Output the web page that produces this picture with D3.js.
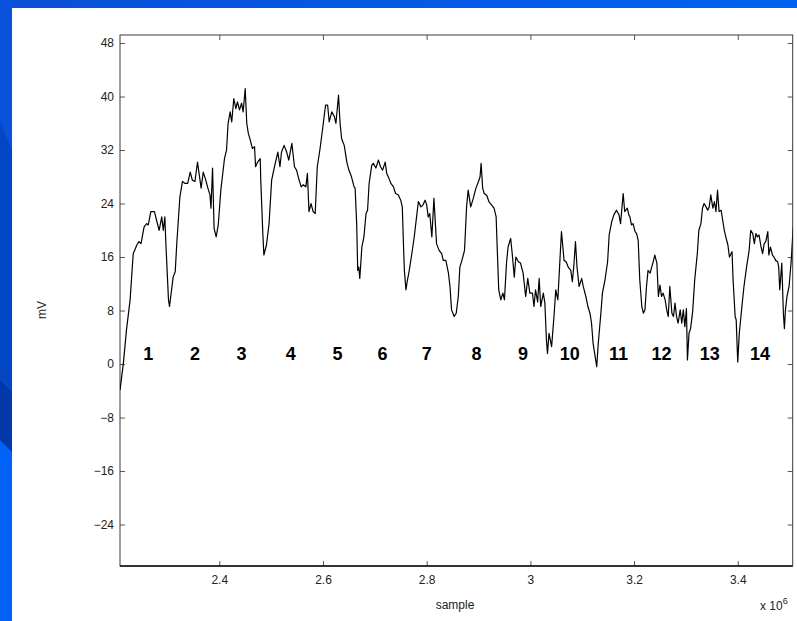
<!DOCTYPE html>
<html>
<meta charset="UTF-8">
<style>
/*	page + chart styles  */
body {
	margin: 0;
	background: #0060f4;
	font-family: "Liberation Sans", Arial, sans-serif;
}

.trace {
	fill: none;
	stroke: #000;
	stroke-width: 1.2px;
	stroke-linejoin: round;
}

.frame {
	fill: none;
	stroke: #3a3a3a;
	stroke-width: 1px;
}

.tick-lbl {
	font-size: 12px;
	fill: #222;
}

.beat {
	font-size: 18px;
	font-weight: bold;
	fill: #000;
}
</style>
<svg width="797" height="621"></svg>
<script src="https://cdn.jsdelivr.net/npm/d3@7"></script>
<script>
//	signal: sample index (x 10^6) and voltage (mV)
var sampleM = [
	2.2085, 2.215, 2.221, 2.228, 2.234, 2.241, 2.245, 2.249, 2.255, 2.260, 2.263, 2.268, 2.275, 2.279, 2.284, 2.289, 2.292, 2.295, 2.297,
	2.302, 2.304, 2.308, 2.311, 2.315, 2.318, 2.324, 2.329, 2.334, 2.339, 2.344, 2.348, 2.353, 2.358, 2.361, 2.365, 2.369, 2.374, 2.378,
	2.382, 2.384, 2.387, 2.390, 2.394, 2.398, 2.403, 2.410, 2.414, 2.417, 2.421, 2.424, 2.428, 2.432, 2.435, 2.439, 2.443, 2.446, 2.450,
	2.453, 2.456, 2.459, 2.464, 2.468, 2.470, 2.474, 2.479, 2.480, 2.484, 2.486, 2.491, 2.496, 2.501, 2.507, 2.513, 2.517, 2.520, 2.525,
	2.530, 2.534, 2.540, 2.545, 2.549, 2.554, 2.558, 2.562, 2.567, 2.570, 2.573, 2.577, 2.581, 2.585, 2.589, 2.594, 2.599, 2.603, 2.605,
	2.609, 2.612, 2.617, 2.622, 2.625, 2.630, 2.633, 2.636, 2.641, 2.646, 2.650, 2.655, 2.660, 2.662, 2.665, 2.667, 2.669, 2.671, 2.675,
	2.679, 2.683, 2.686, 2.689, 2.694, 2.697, 2.702, 2.707, 2.711, 2.715, 2.720, 2.723, 2.727, 2.731, 2.736, 2.740, 2.745, 2.750, 2.753,
	2.755, 2.757, 2.760, 2.763, 2.766, 2.771, 2.776, 2.779, 2.784, 2.789, 2.793, 2.797, 2.800, 2.803, 2.806, 2.810, 2.814, 2.819, 2.824,
	2.829, 2.832, 2.837, 2.842, 2.845, 2.848, 2.853, 2.857, 2.861, 2.864, 2.868, 2.873, 2.877, 2.880, 2.885, 2.890, 2.895, 2.900, 2.903,
	2.905, 2.908, 2.911, 2.916, 2.920, 2.925, 2.930, 2.934, 2.936, 2.939, 2.943, 2.947, 2.950, 2.954, 2.957, 2.962, 2.965, 2.969, 2.972,
	2.977, 2.981, 2.986, 2.991, 2.995, 2.999, 3.004, 3.007, 3.010, 3.014, 3.017, 3.020, 3.025, 3.028, 3.031, 3.033, 3.036, 3.041, 3.046,
	3.049, 3.053, 3.057, 3.060, 3.065, 3.069, 3.073, 3.078, 3.081, 3.084, 3.087, 3.090, 3.094, 3.099, 3.102, 3.107, 3.111, 3.115, 3.118,
	3.121, 3.125, 3.128, 3.131, 3.136, 3.139, 3.144, 3.149, 3.152, 3.157, 3.161, 3.166, 3.171, 3.174, 3.179, 3.182, 3.187, 3.190, 3.192,
	3.195, 3.198, 3.202, 3.205, 3.208, 3.211, 3.215, 3.218, 3.221, 3.224, 3.227, 3.231, 3.234, 3.237, 3.240, 3.244, 3.247, 3.250, 3.253,
	3.256, 3.260, 3.263, 3.266, 3.269, 3.273, 3.276, 3.279, 3.282, 3.285, 3.289, 3.292, 3.295, 3.298, 3.301, 3.303, 3.306, 3.309, 3.313,
	3.317, 3.322, 3.325, 3.329, 3.332, 3.335, 3.339, 3.342, 3.345, 3.348, 3.352, 3.355, 3.358, 3.361, 3.364, 3.368, 3.371, 3.374, 3.377,
	3.381, 3.384, 3.387, 3.389, 3.391, 3.395, 3.397, 3.400, 3.403, 3.408, 3.412, 3.417, 3.422, 3.425, 3.429, 3.432, 3.435, 3.438, 3.441,
	3.445, 3.448, 3.451, 3.454, 3.458, 3.460, 3.463, 3.467, 3.470, 3.473, 3.477, 3.479, 3.481, 3.485, 3.488, 3.490, 3.492, 3.495, 3.499,
	3.503, 3.507
];

var millivolts = [
	-3.9, 0.1, 5.1, 9.6, 16.5, 17.8, 18.3, 18.0, 20.5, 21.0, 20.8, 22.8, 22.8, 21.5, 20.0, 22.0, 20.0, 22.0, 18.0,
	9.6, 8.6, 11.1, 13.0, 13.8, 18.0, 25.0, 27.3, 27.0, 27.0, 28.7, 27.5, 27.3, 30.2, 28.5, 26.3, 28.7, 27.5, 26.3,
	25.3, 23.3, 29.3, 20.3, 19.0, 20.8, 26.0, 30.7, 32.0, 36.0, 37.7, 36.2, 39.7, 38.2, 39.2, 38.0, 39.0, 37.7, 41.2,
	36.0, 34.5, 33.7, 32.2, 32.5, 29.5, 30.2, 30.7, 27.5, 19.5, 16.3, 17.8, 21.0, 27.5, 29.7, 31.7, 29.5, 31.7, 32.7,
	31.7, 30.5, 33.0, 29.5, 29.0, 27.5, 26.5, 26.8, 26.5, 28.5, 22.8, 24.0, 22.8, 22.5, 29.5, 32.0, 35.0, 37.5, 38.7,
	38.7, 36.2, 37.7, 37.0, 36.0, 40.2, 36.0, 33.7, 32.7, 30.2, 29.0, 28.0, 26.5, 26.3, 21.0, 14.0, 14.5, 12.8, 17.5,
	19.0, 22.5, 23.0, 27.0, 29.7, 30.0, 29.3, 30.5, 29.5, 29.0, 30.2, 28.5, 27.8, 27.0, 26.5, 25.5, 25.3, 24.5, 23.5,
	18.5, 14.0, 11.1, 12.6, 13.8, 16.3, 19.0, 21.0, 24.3, 23.5, 23.8, 24.5, 23.8, 22.0, 22.5, 19.0, 24.8, 18.0, 17.0,
	16.5, 15.5, 15.5, 13.6, 11.6, 8.1, 7.1, 7.6, 10.1, 14.5, 15.5, 17.0, 23.5, 26.0, 23.5, 24.8, 26.3, 27.3, 28.0,
	30.0, 26.3, 25.5, 25.2, 24.3, 23.8, 23.3, 22.0, 17.5, 11.1, 9.6, 10.6, 9.6, 15.1, 17.5, 18.8, 16.5, 13.0, 16.0,
	15.3, 15.1, 13.6, 10.1, 12.8, 10.6, 10.6, 8.6, 11.1, 9.3, 12.8, 8.6, 10.6, 9.1, 3.6, 1.6, 4.6, 2.6, 7.6,
	11.1, 9.6, 15.5, 19.8, 15.5, 15.3, 14.5, 14.0, 12.3, 14.8, 18.3, 14.5, 11.6, 12.8, 11.6, 10.1, 8.6, 7.6, 6.1,
	3.1, 1.1, -0.4, 3.1, 7.6, 10.6, 12.6, 15.3, 19.3, 21.3, 22.3, 23.0, 22.3, 21.0, 25.5, 22.8, 23.3, 22.3, 22.0,
	20.8, 21.0, 19.8, 19.5, 18.5, 12.6, 8.6, 7.6, 8.1, 11.6, 14.0, 13.6, 14.5, 15.3, 16.3, 15.1, 10.1, 11.8, 10.1,
	10.6, 9.6, 8.1, 7.1, 11.6, 7.6, 7.1, 9.1, 7.1, 6.1, 8.1, 6.1, 8.1, 5.6, 8.3, 0.6, 4.6, 5.3, 7.8,
	12.6, 16.5, 20.0, 21.0, 23.3, 24.0, 23.5, 23.0, 23.5, 25.3, 23.3, 24.3, 22.8, 26.0, 22.8, 23.0, 21.5, 20.0, 19.0,
	17.8, 16.0, 16.5, 16.8, 12.6, 7.1, 6.6, 0.3, 4.6, 8.6, 11.6, 14.5, 17.0, 20.0, 19.5, 18.0, 19.5, 19.0, 19.3,
	17.5, 16.5, 18.0, 18.3, 19.8, 16.3, 17.5, 16.3, 16.0, 15.5, 15.3, 14.5, 11.1, 15.1, 7.6, 5.3, 8.1, 10.1, 11.6,
	15.3, 20.5
];

//	axis ticks
var xTicks = [2.4, 2.6, 2.8, 3.0, 3.2, 3.4];
var yTicks = [48, 40, 32, 24, 16, 8, 0, -8, -16, -24];

//	beat numbers written under the trace
var beatLabels = ["1", "2", "3", "4", "5", "6", "7", "8", "9", "10", "11", "12", "13", "14"];
var beatSamples = [2.263, 2.353, 2.443, 2.538, 2.628, 2.715, 2.800, 2.896, 2.986, 3.076, 3.170, 3.253, 3.346, 3.443];
var beatLevel = 1.6;

//	svg and sizing
var svg = d3.select("svg"),
    width = +svg.attr("width"),
    height = +svg.attr("height");

//	plot box (pixels)
var box = { l: 120, r: 792.7, t: 35, b: 566 };

var x = d3.scaleLinear().domain([2.2085, 3.506]).range([box.l, box.r]);
var y = d3.scaleLinear().domain([-30.2, 49.2]).range([box.b, box.t]);

//	slide background: blue bar at top and left, white panel
var defs = svg.append("defs");
var grad = defs.append("linearGradient")
	.attr("id", "topbar").attr("x1", 0).attr("x2", 1);
grad.append("stop").attr("offset", 0).attr("stop-color", "#0a4fd6");
grad.append("stop").attr("offset", 1).attr("stop-color", "#0062f2");

var bg = svg.append("g");
bg.append("rect").attr("width", width).attr("height", height).attr("fill", "#0063f6");
bg.append("rect").attr("width", width).attr("height", 8).attr("fill", "url(#topbar)");
bg.append("polygon").attr("points", "0,0 12,0 12,150 0,120").attr("fill", "#0a52dc");
bg.append("polygon").attr("points", "0,120 12,150 12,450 0,440").attr("fill", "#0447c4");
bg.append("polygon").attr("points", "0,380 12,392 12,452 0,440").attr("fill", "#0338a8");
bg.append("rect").attr("x", 12).attr("y", 8).attr("width", width - 12).attr("height", height - 8).attr("fill", "#fff");

//	clip for trace
defs.append("clipPath").attr("id", "plot")
	.append("rect").attr("x", box.l).attr("y", box.t).attr("width", box.r - box.l).attr("height", box.b - box.t);

//	axes (matlab style: ticks inside, on all four sides)
var tickLen = 5;
var fmtY = function(d) { return d < 0 ? "\u2212" + Math.abs(d) : d; };
var fmtX = function(d) { return +d.toFixed(1); };

svg.append("g").attr("transform", "translate(" + box.l + ",0)")
	.call(d3.axisLeft(y).tickValues(yTicks).tickSize(-tickLen).tickPadding(6).tickFormat(fmtY));
svg.append("g").attr("transform", "translate(" + box.r + ",0)")
	.call(d3.axisRight(y).tickValues(yTicks).tickSize(-tickLen).tickFormat(""));
svg.append("g").attr("transform", "translate(0," + box.b + ")")
	.call(d3.axisBottom(x).tickValues(xTicks).tickSize(-tickLen).tickPadding(9).tickFormat(fmtX));
svg.append("g").attr("transform", "translate(0," + box.t + ")")
	.call(d3.axisTop(x).tickValues(xTicks).tickSize(-tickLen).tickFormat(""));

svg.selectAll(".domain").remove();
svg.selectAll(".tick line").attr("stroke", "#555");
svg.selectAll(".tick text").attr("class", "tick-lbl").attr("font-family", null).attr("font-size", null);

svg.append("rect").attr("class", "frame")
	.attr("x", box.l).attr("y", box.t).attr("width", box.r - box.l).attr("height", box.b - box.t);
svg.append("line").attr("x1", box.l).attr("x2", box.r).attr("y1", box.b).attr("y2", box.b)
	.attr("stroke", "#111").attr("stroke-width", 1.3);

//	trace
var pts = d3.zip(sampleM, millivolts);
var line = d3.line()
	.x(function(d) { return x(d[0]); })
	.y(function(d) { return y(d[1]); });

svg.append("path")
	.datum(pts)
	.attr("class", "trace")
	.attr("clip-path", "url(#plot)")
	.attr("d", line);

//	beat numbers
svg.append("g").selectAll("text")
	.data(beatLabels)
	.enter().append("text")
	.attr("class", "beat")
	.attr("text-anchor", "middle")
	.attr("x", function(d, i) { return x(beatSamples[i]); })
	.attr("y", y(beatLevel) + 7)
	.text(function(d) { return d; });

//	axis titles
svg.append("text")
	.attr("transform", "translate(46,310) rotate(-90)")
	.attr("text-anchor", "middle")
	.attr("font-size", 12).attr("fill", "#222")
	.text("mV");

svg.append("text")
	.attr("x", 455).attr("y", 609)
	.attr("text-anchor", "middle")
	.attr("font-size", 12).attr("fill", "#222")
	.text("sample");

var mult = svg.append("text")
	.attr("x", 760).attr("y", 610)
	.attr("font-size", 12).attr("fill", "#222");
mult.append("tspan").text("x 10");
mult.append("tspan").attr("dy", -6).attr("font-size", 9).text("6");
</script>
</html>
